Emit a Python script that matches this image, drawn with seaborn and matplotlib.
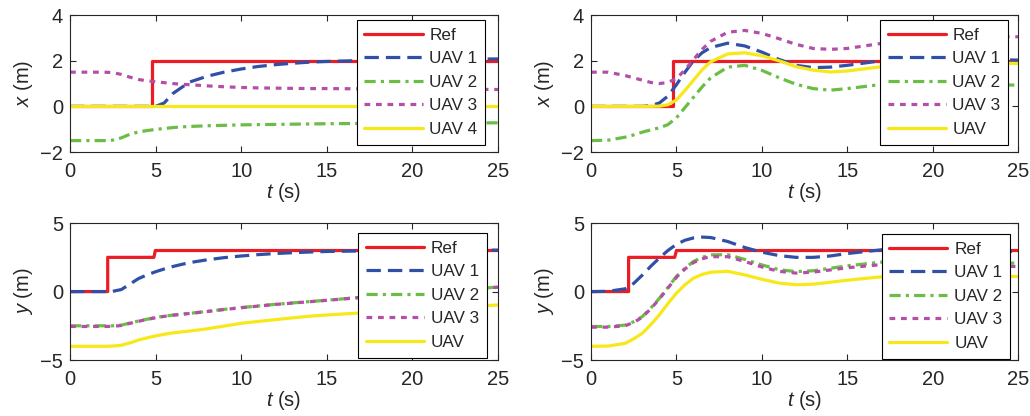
import numpy as np
import pandas as pd
import matplotlib
matplotlib.use('Agg')
import matplotlib.pyplot as plt
import seaborn as sns

# sample times (s) for the UAV curves
t = [0, 1, 2, 2.5, 3, 3.5, 4, 4.5, 5, 5.5, 6, 6.5, 7, 8, 9, 10, 11, 12, 13, 14, 15, 17, 19, 21, 23, 25]

# top-left: x position
xa_ref_t = [0, 4.8, 4.8, 25]
xa_ref = [0, 0, 2, 2]
xa_uav1 = [0, 0, 0, 0, 0, 0, 0, 0, 0, 0.15, 0.56, 0.82, 1.07, 1.32, 1.5, 1.64, 1.75, 1.83, 1.89, 1.94, 1.97, 2.01, 2.04, 2.06, 2.07, 2.08]
xa_uav2 = [-1.5, -1.5, -1.5, -1.48, -1.38, -1.22, -1.12, -1.06, -1.01, -0.97, -0.93, -0.9, -0.88, -0.85, -0.83, -0.81, -0.8, -0.79, -0.78, -0.77, -0.76, -0.75, -0.74, -0.73, -0.73, -0.72]
xa_uav3 = [1.5, 1.5, 1.5, 1.48, 1.4, 1.28, 1.18, 1.12, 1.08, 1.04, 1.0, 0.97, 0.95, 0.9, 0.86, 0.83, 0.81, 0.8, 0.79, 0.78, 0.78, 0.77, 0.76, 0.75, 0.75, 0.74]
xa_uav4 = [0] * 26

# top-right: x position
xb_ref_t = [0, 4.8, 4.8, 25]
xb_ref = [0, 0, 2, 2]
xb_uav1 = [0, 0, 0, 0, 0, 0.03, 0.15, 0.45, 0.95, 1.5, 2.0, 2.35, 2.58, 2.77, 2.65, 2.38, 2.06, 1.8, 1.7, 1.72, 1.8, 2.0, 2.08, 2.08, 2.05, 2.03]
xb_uav2 = [-1.5, -1.48, -1.35, -1.25, -1.13, -1.03, -0.94, -0.8, -0.5, -0.05, 0.4, 0.85, 1.25, 1.72, 1.8, 1.58, 1.26, 0.97, 0.78, 0.71, 0.78, 0.96, 1.02, 1.0, 0.96, 0.93]
xb_uav3 = [1.5, 1.5, 1.35, 1.25, 1.15, 1.05, 1.0, 1.05, 1.22, 1.6, 2.05, 2.5, 2.85, 3.25, 3.33, 3.2, 2.97, 2.72, 2.54, 2.5, 2.54, 2.76, 2.95, 3.05, 3.07, 3.05]
xb_uav = [0, 0, 0, 0, 0, 0, 0.01, 0.07, 0.28, 0.7, 1.15, 1.6, 1.95, 2.3, 2.35, 2.22, 2.0, 1.74, 1.59, 1.51, 1.55, 1.74, 1.86, 1.9, 1.9, 1.88]

# bottom-left: y position
ya_ref_t = [0, 2.2, 2.2, 4.9, 4.98, 25]
ya_ref = [0, 0, 2.5, 2.5, 3, 3]
ya_uav1 = [0, 0, 0, 0.02, 0.15, 0.55, 0.95, 1.22, 1.45, 1.65, 1.83, 1.98, 2.12, 2.32, 2.48, 2.6, 2.7, 2.78, 2.84, 2.89, 2.93, 2.97, 2.99, 3.01, 3.02, 3.03]
ya_uav2 = [-2.5, -2.5, -2.5, -2.5, -2.45, -2.3, -2.15, -2.02, -1.9, -1.8, -1.72, -1.65, -1.59, -1.45, -1.3, -1.17, -1.05, -0.93, -0.83, -0.73, -0.63, -0.42, -0.22, -0.03, 0.15, 0.33]
ya_uav3 = [-2.55, -2.55, -2.55, -2.54, -2.48, -2.32, -2.17, -2.03, -1.91, -1.81, -1.73, -1.66, -1.6, -1.46, -1.31, -1.18, -1.06, -0.94, -0.84, -0.74, -0.64, -0.43, -0.23, -0.04, 0.14, 0.32]
ya_uav = [-4, -4, -4, -3.98, -3.92, -3.75, -3.54, -3.38, -3.24, -3.12, -3.02, -2.95, -2.88, -2.72, -2.52, -2.32, -2.18, -2.05, -1.92, -1.8, -1.71, -1.56, -1.4, -1.25, -1.11, -0.98]

# bottom-right: y position
yb_ref_t = [0, 2.2, 2.2, 4.9, 5.0, 25]
yb_ref = [0, 0, 2.5, 2.5, 3, 3]
yb_uav1 = [0, 0.02, 0.2, 0.6, 1.2, 1.85, 2.45, 3.0, 3.45, 3.75, 3.92, 3.98, 3.95, 3.66, 3.22, 2.88, 2.63, 2.5, 2.5, 2.6, 2.78, 3.05, 3.15, 3.1, 3.0, 2.93]
yb_uav2 = [-2.55, -2.55, -2.45, -2.2, -1.83, -1.2, -0.5, 0.3, 1.1, 1.7, 2.2, 2.5, 2.68, 2.7, 2.35, 1.95, 1.6, 1.46, 1.52, 1.7, 1.88, 2.15, 2.25, 2.2, 2.12, 2.07]
yb_uav3 = [-2.6, -2.6, -2.5, -2.25, -1.88, -1.25, -0.55, 0.25, 1.05, 1.65, 2.12, 2.4, 2.55, 2.55, 2.2, 1.8, 1.48, 1.35, 1.42, 1.58, 1.74, 1.97, 2.02, 1.95, 1.88, 1.83]
yb_uav = [-4, -3.98, -3.78, -3.45, -3.05, -2.42, -1.7, -0.88, -0.12, 0.5, 0.98, 1.25, 1.41, 1.48, 1.22, 0.9, 0.62, 0.5, 0.54, 0.68, 0.83, 1.08, 1.18, 1.18, 1.13, 1.1]

labels_a = ['Ref', 'UAV 1', 'UAV 2', 'UAV 3', 'UAV 4']
labels_b = ['Ref', 'UAV 1', 'UAV 2', 'UAV 3', 'UAV']

sns.set_style('ticks')
plt.rcParams['font.family'] = ['Liberation Sans', 'DejaVu Sans']
plt.rcParams['mathtext.fontset'] = 'custom'
plt.rcParams['mathtext.it'] = 'Liberation Sans:italic'
plt.rcParams['mathtext.rm'] = 'Liberation Sans'

colors = ['#ec1c24', '#3050a8', '#6cbd45', '#b44fa8', '#f7e81a']
styles = ['-', (0, (4.5, 2.2)), (0, (3.5, 1.6, 1.0, 1.6)), (0, (1.8, 1.8)), '-']
lw = 2.3


def draw(ax, ref_t, ref, series, labels, ylab, ylim, yticks, anchor):
    sns.lineplot(x=ref_t, y=ref, ax=ax, color=colors[0], lw=lw, linestyle=styles[0],
                 label=labels[0], estimator=None, sort=False)
    for i, s in enumerate(series):
        sns.lineplot(x=t, y=s, ax=ax, color=colors[i + 1], lw=lw, linestyle=styles[i + 1],
                     label=labels[i + 1], estimator=None, sort=False)
    ax.set_xlim(0, 25)
    ax.set_ylim(*ylim)
    ax.set_xticks([0, 5, 10, 15, 20, 25])
    ax.set_yticks(yticks)
    ax.tick_params(direction='in', top=True, right=True, length=4, labelsize=14.5, width=0.8)
    ax.tick_params(axis='x', pad=7)
    ax.tick_params(axis='y', pad=5)
    ax.set_xlabel('$t$ (s)', fontsize=14.5, labelpad=0)
    ax.set_ylabel(ylab, fontsize=14.5, labelpad=4)
    for sp in ax.spines.values():
        sp.set_linewidth(0.8)
    leg = ax.legend(loc='upper right', bbox_to_anchor=anchor, fontsize=12.3, frameon=True,
                    fancybox=False, edgecolor='black', framealpha=1, handlelength=3.4,
                    labelspacing=0.5, borderpad=0.45, handletextpad=0.4, borderaxespad=0)
    leg.get_frame().set_linewidth(0.8)


fig = plt.figure(figsize=(10.3, 4.16), dpi=100)
ax1 = fig.add_axes([0.068, 0.6346, 0.4155, 0.329])
ax2 = fig.add_axes([0.5738, 0.6346, 0.4146, 0.329])
ax3 = fig.add_axes([0.068, 0.1346, 0.4155, 0.329])
ax4 = fig.add_axes([0.5738, 0.1346, 0.4146, 0.329])

draw(ax1, xa_ref_t, xa_ref, [xa_uav1, xa_uav2, xa_uav3, xa_uav4], labels_a,
     '$x$ (m)', (-2, 4), [-2, 0, 2, 4], (0.97, 0.964))
draw(ax2, xb_ref_t, xb_ref, [xb_uav1, xb_uav2, xb_uav3, xb_uav], labels_b,
     '$x$ (m)', (-2, 4), [-2, 0, 2, 4], (0.977, 0.964))
draw(ax3, ya_ref_t, ya_ref, [ya_uav1, ya_uav2, ya_uav3, ya_uav], labels_b,
     '$y$ (m)', (-5, 5), [-5, 0, 5], (0.974, 0.927))
draw(ax4, yb_ref_t, yb_ref, [yb_uav1, yb_uav2, yb_uav3, yb_uav], labels_b,
     '$y$ (m)', (-5, 5), [-5, 0, 5], (0.981, 0.92))

fig.savefig('out.png', dpi=100)
